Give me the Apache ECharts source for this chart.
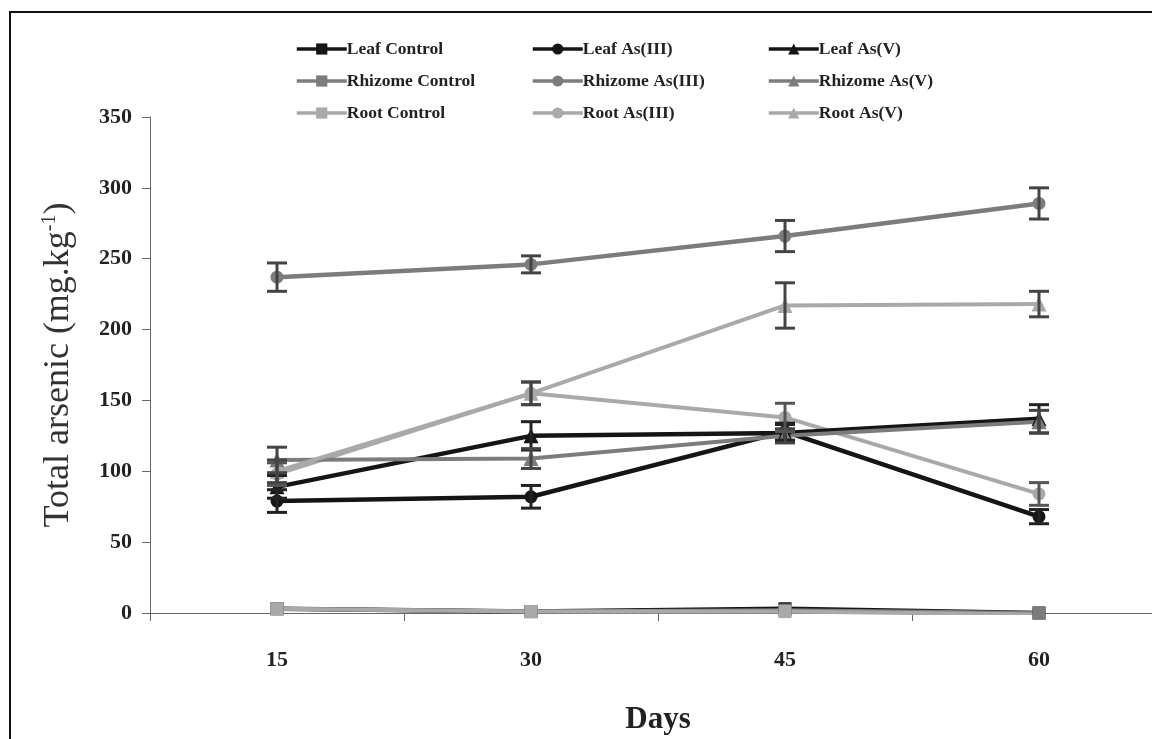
<!DOCTYPE html>
<html><head><meta charset="utf-8">
<script src="https://cdn.jsdelivr.net/npm/echarts@6/dist/echarts.min.js"></script>
<style>html,body{margin:0;padding:0;background:#fff}#c{width:1152px;height:739px}</style>
</head><body><div id="c"></div>
<script>
var days = ['15','30','45','60'];
var yTicks = [0,50,100,150,200,250,300,350];
var leafControl = [3,1,3,0];
var leafAs3 = [79,82,128,68];
var leafAs5 = [89,125,127,137];
var rhizomeControl = [3,1,2,0];
var rhizomeAs3 = [237,246,266,289];
var rhizomeAs5 = [108,109,125,135];
var rootControl = [3,1,1,-1];
var rootAs3 = [98,155,138,84];
var rootAs5 = [100,155,217,218];
var errLeafAs3 = [8,8,6,5];
var errLeafAs5 = [8,10,6,10];
var errRhizomeAs3 = [10,6,11,11];
var errRhizomeAs5 = [9,7,5,8];
var errRootAs3 = [8,8,10,8];
var errRootAs5 = [8,8,16,9];

var BLACK='#151515', MID='#7c7c7c', LIGHT='#a9a9a9';
var FONT='"Liberation Serif","Times New Roman",serif';

function lineSeries(name, data, color, symbol, width){
  return {name:name, type:'line', data:data, symbol:symbol, symbolSize: symbol==='triangle'?15:13,
    lineStyle:{color:color, width:width}, itemStyle:{color:color}, z:3, animation:false};
}
function errSeries(vals, errs, color){
  var d = vals.map(function(v,i){return [i, v-errs[i], v+errs[i]];});
  return {type:'custom', data:d, z:4, animation:false, silent:true,
    renderItem:function(params, api){
      var lo = api.coord([api.value(0), api.value(1)]);
      var hi = api.coord([api.value(0), api.value(2)]);
      var w = 10;
      var st = {stroke:color, lineWidth:3};
      return {type:'group', children:[
        {type:'line', shape:{x1:lo[0],y1:lo[1],x2:hi[0],y2:hi[1]}, style:st},
        {type:'line', shape:{x1:lo[0]-w,y1:lo[1],x2:lo[0]+w,y2:lo[1]}, style:st},
        {type:'line', shape:{x1:hi[0]-w,y1:hi[1],x2:hi[0]+w,y2:hi[1]}, style:st}
      ]};
    }};
}

var series = [
  lineSeries('Leaf Control', leafControl, BLACK, 'rect', 4.5),
  lineSeries('Rhizome Control', rhizomeControl, MID, 'rect', 4),
  lineSeries('Root Control', rootControl, LIGHT, 'rect', 4),
  lineSeries('Leaf As(III)', leafAs3, BLACK, 'circle', 4.5),
  lineSeries('Rhizome As(III)', rhizomeAs3, MID, 'circle', 4.5),
  lineSeries('Root As(III)', rootAs3, LIGHT, 'circle', 4),
  lineSeries('Leaf As(V)', leafAs5, BLACK, 'triangle', 4.5),
  lineSeries('Rhizome As(V)', rhizomeAs5, MID, 'triangle', 4),
  lineSeries('Root As(V)', rootAs5, LIGHT, 'triangle', 4),
  errSeries(leafAs3, errLeafAs3, '#222'),
  errSeries(leafAs5, errLeafAs5, '#222'),
  errSeries(rhizomeAs3, errRhizomeAs3, '#444'),
  errSeries(rhizomeAs5, errRhizomeAs5, '#444'),
  errSeries(rootAs3, errRootAs3, '#555'),
  errSeries(rootAs5, errRootAs5, '#444')
];

function legend(names, left){
  return {data:names, orient:'vertical', left:left, top:34, itemGap:12, itemWidth:50, itemHeight:14,
    lineStyle:{width:3.5},
    textStyle:{fontFamily:FONT, fontWeight:'bold', fontSize:17.5, lineHeight:20, color:'#222', padding:[0,0,0,-5]}};
}

var chart = echarts.init(document.getElementById('c'));
chart.setOption({
  backgroundColor:'#fff',
  animation:false,
  graphic:[{type:'rect', shape:{x:10,y:12,width:1200,height:740}, style:{fill:'none', stroke:'#111', lineWidth:2}, silent:true}],
  legend:[
    legend(['Leaf Control','Rhizome Control','Root Control'], 290),
    legend(['Leaf As(III)','Rhizome As(III)','Root As(III)'], 526),
    legend(['Leaf As(V)','Rhizome As(V)','Root As(V)'], 762)
  ],
  grid:{left:150, top:117, width:1016, height:496, containLabel:false, outerBoundsMode:'none'},
  xAxis:{type:'category', data:days, boundaryGap:true,
    axisLine:{lineStyle:{color:'#666', width:1}},
    axisTick:{show:true, length:8, lineStyle:{color:'#666'}},
    axisLabel:{fontFamily:FONT, fontWeight:'bold', fontSize:22, color:'#222', margin:36},
    name:'Days', nameLocation:'middle', nameGap:91,
    nameTextStyle:{fontFamily:FONT, fontWeight:'bold', fontSize:31, color:'#222'}},
  yAxis:{type:'value', min:0, max:350, interval:50,
    axisLine:{show:true, lineStyle:{color:'#666'}},
    axisTick:{show:true, length:8, lineStyle:{color:'#666'}},
    splitLine:{show:false},
    axisLabel:{fontFamily:FONT, fontWeight:'bold', fontSize:22, color:'#222', margin:18,
      formatter:function(v){return yTicks.indexOf(v)>=0?String(v):'';}},
    name:'{a|Total arsenic (mg.kg}{s|-1}{a|)}', nameLocation:'middle', nameGap:72, nameRotate:90,
    nameTextStyle:{rich:{a:{fontFamily:FONT, fontSize:36, color:'#333'}, s:{fontFamily:FONT, fontSize:20, color:'#333', verticalAlign:'bottom', padding:[0,0,18,0]}}}},
  series:series
});
</script></body></html>
